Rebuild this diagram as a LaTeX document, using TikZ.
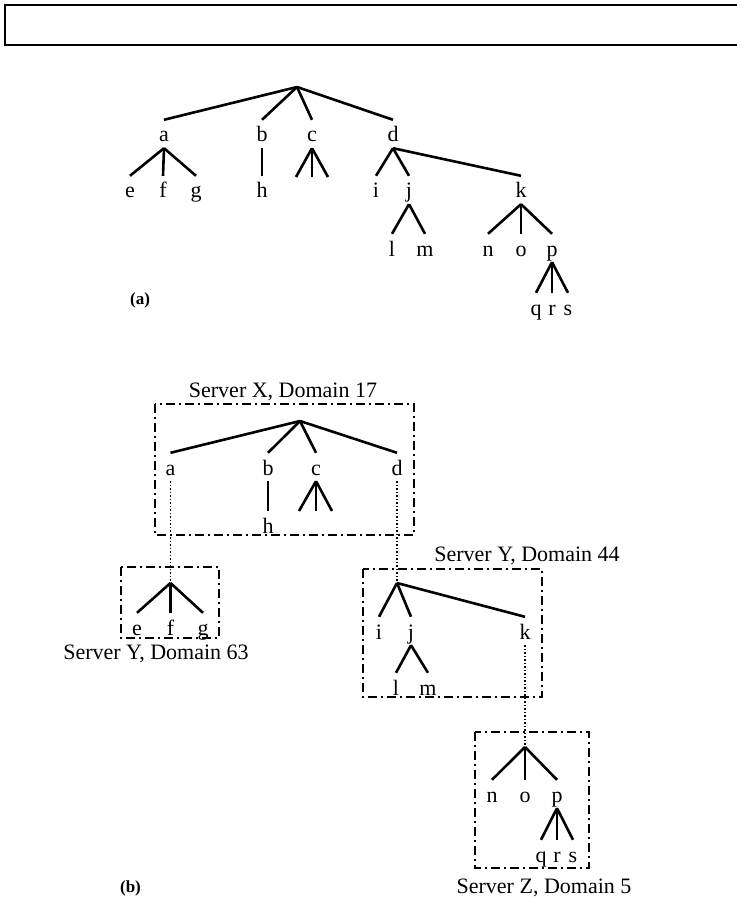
\documentclass[tikz,border=0pt]{standalone}
\usepackage{fontspec}
\setmainfont{Liberation Serif}
\usepackage{tikz}

\begin{document}
\begin{tikzpicture}[x=1pt, y=-1pt,
        leaf/.style={inner sep=0pt, anchor=base, text height=22pt, text depth=6pt, font=\fontsize{22}{26}\selectfont},
        caption/.style={inner sep=0pt, anchor=base, font=\fontsize{22}{26}\selectfont},
        part/.style={inner sep=0pt, anchor=base, font=\fontsize{17}{20}\selectfont\bfseries},
        branch/.style={line width=2.6pt},
        server/.style={line width=1.6pt, dash pattern=on 9pt off 4pt on 2pt off 4pt},
        link/.style={line width=1.2pt, dash pattern=on 1.5pt off 2pt},
        frame/.style={line width=2pt}
    ]
        \useasboundingbox (0,0) rectangle (736,901);
        \draw[frame] (5,5) rectangle (760,45);

        \coordinate (ra) at (297,87);
        \node[leaf] (aa) at (164,142) {a};
        \node[leaf] (ab) at (262,142) {b};
        \node[leaf] (ac) at (312,142) {c};
        \node[leaf] (ad) at (393,142) {d};
        \node[leaf] (ae) at (130,198) {e};
        \node[leaf] (af) at (163,198) {f};
        \node[leaf] (ag) at (196,198) {g};
        \node[leaf] (ah) at (262,198) {h};
        \coordinate (ac1) at (296,177);
        \coordinate (ac2) at (312,177);
        \coordinate (ac3) at (328,177);
        \node[leaf] (ai) at (376,198) {i};
        \node[leaf] (aj) at (409,198) {j};
        \node[leaf] (ak) at (521,198) {k};
        \node[leaf] (al) at (392,256) {l};
        \node[leaf] (am) at (425,256) {m};
        \node[leaf] (an) at (488,256) {n};
        \node[leaf] (ao) at (521,256) {o};
        \node[leaf] (ap) at (552,256) {p};
        \node[leaf] (aq) at (536,315) {q};
        \node[leaf] (ar) at (552,315) {r};
        \node[leaf] (as) at (568,315) {s};
        \node[part] (parta) at (140,304) {(a)};

        \draw[branch] (ra) -- (aa.north);
        \draw[branch] (ra) -- (ab.north);
        \draw[branch] (ra) -- (ac.north);
        \draw[branch] (ra) -- (ad.north);
        \draw[branch] (aa.south) -- (ae.north);
        \draw[branch] (aa.south) -- (af.north);
        \draw[branch] (aa.south) -- (ag.north);
        \draw[branch] (ab.south) -- (ah.north);
        \draw[branch] (ac.south) -- (ac1);
        \draw[branch] (ac.south) -- (ac2);
        \draw[branch] (ac.south) -- (ac3);
        \draw[branch] (ad.south) -- (ai.north);
        \draw[branch] (ad.south) -- (aj.north);
        \draw[branch] (ad.south) -- (ak.north);
        \draw[branch] (aj.south) -- (al.north);
        \draw[branch] (aj.south) -- (am.north);
        \draw[branch] (ak.south) -- (an.north);
        \draw[branch] (ak.south) -- (ao.north);
        \draw[branch] (ak.south) -- (ap.north);
        \draw[branch] (ap.south) -- (aq.north);
        \draw[branch] (ap.south) -- (ar.north);
        \draw[branch] (ap.south) -- (as.north);

        \draw[server] (155,404) rectangle (414,535);
        \draw[server] (121,567) rectangle (219,638);
        \draw[server] (363,569) rectangle (542,697);
        \draw[server] (475,732) rectangle (589,868);
        \node[caption] (capx) at (283,397) {Server X, Domain 17};
        \node[caption] (capy63) at (156,659) {Server Y, Domain 63};
        \node[caption] (capy44) at (527,561) {Server Y, Domain 44};
        \node[caption] (capz) at (544,893) {Server Z, Domain 5};

        \coordinate (rx) at (300,421);
        \node[leaf] (xa) at (170.5,475) {a};
        \node[leaf] (xb) at (268,475) {b};
        \node[leaf] (xc) at (316,475) {c};
        \node[leaf] (xd) at (397,475) {d};
        \node[leaf] (xh) at (268,533) {h};
        \coordinate (xc1) at (299,511);
        \coordinate (xc2) at (316,511);
        \coordinate (xc3) at (332,511);

        \coordinate (ry63) at (170.5,583);
        \node[leaf] (ye) at (137,635) {e};
        \node[leaf] (yf) at (170.5,635) {f};
        \node[leaf] (yg) at (203,635) {g};

        \coordinate (ry44) at (397,583);
        \node[leaf] (yi) at (379,639) {i};
        \node[leaf] (yj) at (411,639) {j};
        \node[leaf] (yk) at (525,639) {k};
        \node[leaf] (yl) at (396,695) {l};
        \node[leaf] (ym) at (428,695) {m};

        \coordinate (rz) at (525,747);
        \node[leaf] (zn) at (492,802) {n};
        \node[leaf] (zo) at (525,802) {o};
        \node[leaf] (zp) at (557,802) {p};
        \node[leaf] (zq) at (541,862) {q};
        \node[leaf] (zr) at (557,862) {r};
        \node[leaf] (zs) at (573,862) {s};
        \node[part] (partb) at (130.5,892) {(b)};

        \draw[branch] (rx) -- (xa.north);
        \draw[branch] (rx) -- (xb.north);
        \draw[branch] (rx) -- (xc.north);
        \draw[branch] (rx) -- (xd.north);
        \draw[branch] (xb.south) -- (xh.north);
        \draw[branch] (xc.south) -- (xc1);
        \draw[branch] (xc.south) -- (xc2);
        \draw[branch] (xc.south) -- (xc3);
        \draw[branch] (ry63) -- (ye.north);
        \draw[branch] (ry63) -- (yf.north);
        \draw[branch] (ry63) -- (yg.north);
        \draw[branch] (ry44) -- (yi.north);
        \draw[branch] (ry44) -- (yj.north);
        \draw[branch] (ry44) -- (yk.north);
        \draw[branch] (yj.south) -- (yl.north);
        \draw[branch] (yj.south) -- (ym.north);
        \draw[branch] (rz) -- (zn.north);
        \draw[branch] (rz) -- (zo.north);
        \draw[branch] (rz) -- (zp.north);
        \draw[branch] (zp.south) -- (zq.north);
        \draw[branch] (zp.south) -- (zr.north);
        \draw[branch] (zp.south) -- (zs.north);

        \draw[link] (xa.south) -- (ry63);
        \draw[link] (xd.south) -- (ry44);
        \draw[link] (yk.south) -- (rz);
    \end{tikzpicture}
\end{document}
